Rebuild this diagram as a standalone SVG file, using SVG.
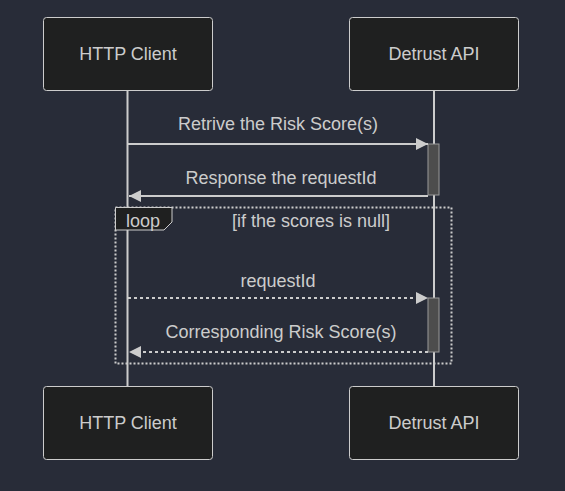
<svg xmlns="http://www.w3.org/2000/svg" width="565" height="491" viewBox="0 0 565 491">
<style>
.actor{fill:#1f2020;stroke:#cccccc;stroke-width:1}
.t{font-family:"Liberation Sans",Arial,sans-serif;font-size:18px;fill:#cccccc;text-anchor:middle;dominant-baseline:central}
.life{stroke:#cccccc;stroke-width:2;fill:none}
.msg{stroke:#cccccc;stroke-width:2;fill:none}
.dash{stroke-dasharray:3,3}
.act{fill:#4d4d4d;stroke:#999999;stroke-width:1}
.loop{fill:none;stroke:#cccccc;stroke-width:2;stroke-dasharray:2,2}
</style>
<defs>
<marker id="ah" viewBox="0 0 12 12" refX="12" refY="6" markerWidth="12" markerHeight="12" markerUnits="userSpaceOnUse" orient="auto">
<path d="M0,0 L12,6 L0,12 z" fill="#cccccc"/>
</marker>
</defs>
<rect width="565" height="491" fill="#282c38"/>
<g id="lifelines">
<line class="life" x1="127.5" y1="90" x2="127.5" y2="386"/>
<line class="life" x1="434" y1="90" x2="434" y2="386"/>
</g>
<g id="activations">
<rect class="act" x="428" y="144" width="11" height="51"/>
<rect class="act" x="428" y="298" width="11" height="54"/>
</g>
<g id="loop">
<rect class="loop" x="115.5" y="207.5" width="336" height="156"/>
<path d="M115.5,207.5 H172 V222 L164,230 H115.5 Z" fill="#1f2020" stroke="#cccccc" stroke-width="1"/>
<text class="t" x="143" y="221">loop</text>
<text class="t" x="311" y="221">[if the scores is null]</text>
</g>
<g id="connectors">
<line class="msg" x1="128" y1="144" x2="428" y2="144" marker-end="url(#ah)"/>
<text class="t" x="278" y="124">Retrive the Risk Score(s)</text>
<line class="msg" x1="428" y1="196" x2="129" y2="196" marker-end="url(#ah)"/>
<text class="t" x="281" y="178">Response the requestId</text>
<line class="msg dash" x1="128" y1="298" x2="428" y2="298" marker-end="url(#ah)"/>
<text class="t" x="278" y="281">requestId</text>
<line class="msg dash" x1="428" y1="352" x2="129" y2="352" marker-end="url(#ah)"/>
<text class="t" x="281" y="332">Corresponding Risk Score(s)</text>
</g>
<g id="client-top"><rect class="actor" x="43.5" y="17.5" width="169" height="73" rx="3"/><text class="t" x="128" y="54">HTTP Client</text></g>
<g id="api-top"><rect class="actor" x="349.5" y="17.5" width="169" height="73" rx="3"/><text class="t" x="434" y="54">Detrust API</text></g>
<g id="client-bottom"><rect class="actor" x="43.5" y="386.5" width="169" height="73" rx="3"/><text class="t" x="128" y="423">HTTP Client</text></g>
<g id="api-bottom"><rect class="actor" x="349.5" y="386.5" width="169" height="73" rx="3"/><text class="t" x="434" y="423">Detrust API</text></g>
</svg>
